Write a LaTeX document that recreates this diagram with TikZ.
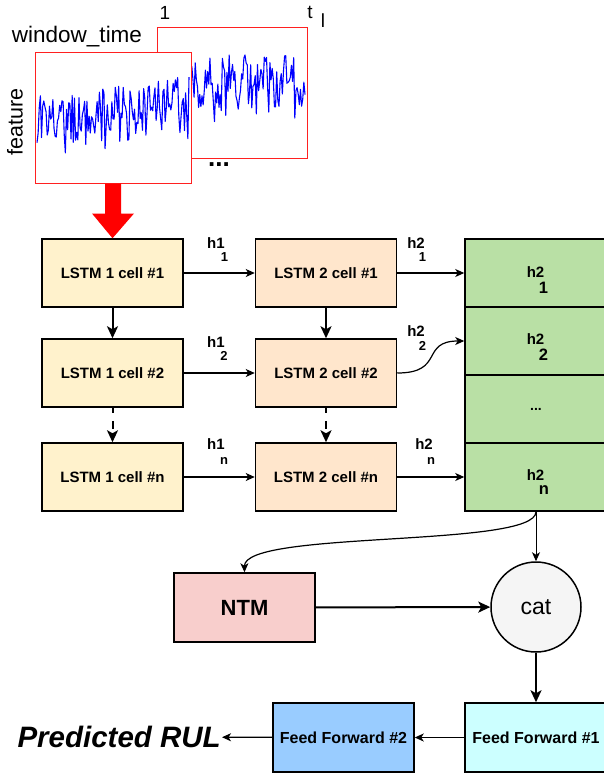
\documentclass[tikz,border=0pt]{standalone}
\usepackage{fontspec}
\setmainfont{Liberation Sans}
\usetikzlibrary{calc, arrows.meta}
\definecolor{lstmA}{HTML}{FFF2CC}
\definecolor{lstmB}{HTML}{FFE6CC}
\definecolor{hidcell}{HTML}{B9E0A5}
\definecolor{ntmfill}{HTML}{F8CECC}
\definecolor{catfill}{HTML}{F5F5F5}
\definecolor{ffA}{HTML}{CCFFFF}
\definecolor{ffB}{HTML}{99CCFF}
\definecolor{sigblue}{HTML}{0000FF}
\definecolor{panelred}{HTML}{FF2020}
\newcommand{\fsz}[1]{\fontsize{#1}{#1}\selectfont}
\tikzset{
    box/.style={draw=black, line width=1.5pt, minimum width=141pt, minimum height=68pt, inner sep=0pt, font=\bfseries\fsz{15}},
    hcell/.style={box, fill=hidcell, minimum width=142pt},
    hlab/.style={inner sep=0pt, font=\bfseries\fsz{15}},
    hsub/.style={inner sep=0pt, font=\bfseries\fsz{13}},
    glab/.style={inner sep=0pt, font=\bfseries\fsz{15}},
    gsub/.style={inner sep=0pt, font=\bfseries\fsz{16.5}},
    thin arrow/.style={line width=1.2pt, -{Stealth[length=9pt, width=8pt, inset=2.5pt]}},
    thick arrow/.style={line width=2pt, -{Stealth[length=12pt, width=11pt, inset=3pt]}},
    panel/.style={draw=panelred, line width=1pt, fill=white, inner sep=0pt},
    signal/.style={sigblue, line width=1.1pt, line join=round}
}
\begin{document}
\begin{tikzpicture}[x=1pt, y=-1pt]
    \useasboundingbox (0,0) rectangle (603,777);
    \pgfmathsetseed{11}
    \node[panel, minimum width=150pt, minimum height=131pt] (winB) at (232,92.5) {};
    \draw[signal] plot[domain=159:305, samples=130] (\x, {84+28*rand+38*rand*rand*rand});
    \node[panel, minimum width=156pt, minimum height=131pt] (winA) at (113,117.5) {};
    \draw[signal] plot[domain=37:189, samples=135] (\x, {128-0.16*(\x-37)+27*rand+30*rand*rand*rand});
    \node[inner sep=0pt, font=\fsz{22.5}] (wtime) at (77,37) {window\_time};
    \node[inner sep=0pt, font=\fsz{21.5}, rotate=90] (feat) at (15,122) {feature};
    \node[inner sep=0pt, font=\fsz{19}] (tfirst) at (165,12.5) {1};
    \node[inner sep=0pt, font=\fsz{19}] (tlast) at (310,12.5) {t};
    \node[inner sep=0pt, font=\fsz{19}] (tsub) at (323,21) {l};
    \node[inner sep=0pt, font=\bfseries\fsz{26}] (more) at (219,165) {...};

    \node[box, fill=lstmA] (L11) at (112.5,273) {LSTM 1 cell \#1};
    \node[box, fill=lstmA] (L12) at (112.5,373) {LSTM 1 cell \#2};
    \node[box, fill=lstmA] (L1n) at (112.5,477) {LSTM 1 cell \#n};
    \node[box, fill=lstmB] (L21) at (326,273) {LSTM 2 cell \#1};
    \node[box, fill=lstmB] (L22) at (326,373) {LSTM 2 cell \#2};
    \node[box, fill=lstmB] (L2n) at (326,477) {LSTM 2 cell \#n};
    \node[hcell] (H1) at (536,273) {};
    \node[hcell] (H2) at (536,341) {};
    \node[hcell, font=\bfseries\fsz{14}] (Hd) at (536,409) {...};
    \node[hcell] (Hn) at (536,477) {};
    \node[glab] (H1a) at (535.5,272) {h2};
    \node[gsub] (H1b) at (543.5,288) {1};
    \node[glab] (H2a) at (535.5,339.5) {h2};
    \node[gsub] (H2b) at (543.5,355) {2};
    \node[glab] (Hna) at (535.5,475) {h2};
    \node[gsub] (Hnb) at (544,490) {n};

    \fill[red] ($(winA.south)+(-8,0)$) -- ($(winA.south)+(8,0)$) -- ($(winA.south)+(8,30)$) -- ($(winA.south)+(21,30)$) -- (L11.north) -- ($(winA.south)+(-21,30)$) -- ($(winA.south)+(-8,30)$) -- cycle;

    \draw[thin arrow] (L11) -- (L21);
    \draw[thin arrow] (L12) -- (L22);
    \draw[thin arrow] (L1n) -- (L2n);
    \draw[thin arrow] (L21) -- (H1);
    \draw[thin arrow] (L22.east) .. controls (445,373) and (420,341) .. (H2.west);
    \draw[thin arrow] (L2n) -- (Hn);
    \draw[thick arrow] (L11) -- (L12);
    \draw[thick arrow] (L21) -- (L22);
    \draw[thick arrow, dash pattern=on 8pt off 8pt, dash phase=3pt] (L12) -- (L1n);
    \draw[thick arrow, dash pattern=on 8pt off 8pt, dash phase=3pt] (L22) -- (L2n);
    \node[hlab] (e11a) at (216,243.5) {h1};
    \node[hsub] (e11b) at (224.5,257) {1};
    \node[hlab] (e21a) at (416,243.5) {h2};
    \node[hsub] (e21b) at (422.5,257) {1};
    \node[hlab] (e12a) at (216,342.5) {h1};
    \node[hsub] (e12b) at (224,355.5) {2};
    \node[hlab] (e22a) at (416,331.5) {h2};
    \node[hsub] (e22b) at (422.5,346) {2};
    \node[hlab] (e1na) at (216,444) {h1};
    \node[hsub] (e1nb) at (224,461) {n};
    \node[hlab] (e2na) at (424,444) {h2};
    \node[hsub] (e2nb) at (431,461) {n};

    \node[box, fill=ntmfill, minimum height=69pt, font=\bfseries\fsz{22}] (NTM) at (244.5,607.5) {NTM};
    \node[circle, draw=black, line width=1.5pt, fill=catfill, minimum size=90pt, inner sep=0pt, font=\fsz{23}] (cat) at (536,607) {cat};
    \node[box, fill=ffA, minimum width=142pt, minimum height=69pt, font=\bfseries\fsz{16}] (FF1) at (536,737.5) {Feed Forward \#1};
    \node[box, fill=ffB, minimum height=69pt, font=\bfseries\fsz{16}] (FF2) at (343.5,737.5) {Feed Forward \#2};
    \node[anchor=east, inner sep=1pt, font=\bfseries\itshape\fsz{29.5}] (RUL) at (222,737) {Predicted RUL};

    \draw[line width=1pt, -{Stealth[length=9pt, width=8pt, inset=2.5pt]}] (Hn.south) -- (cat.north);
    \draw[thin arrow] (Hn.south) .. controls (536,548) and (244,530) .. (NTM.north);
    \draw[thick arrow] (NTM) -- (cat);
    \draw[thick arrow] (cat) -- (FF1);
    \draw[thin arrow] (FF1) -- (FF2);
    \draw[thin arrow] (FF2) -- (RUL);
\end{tikzpicture}
\end{document}
